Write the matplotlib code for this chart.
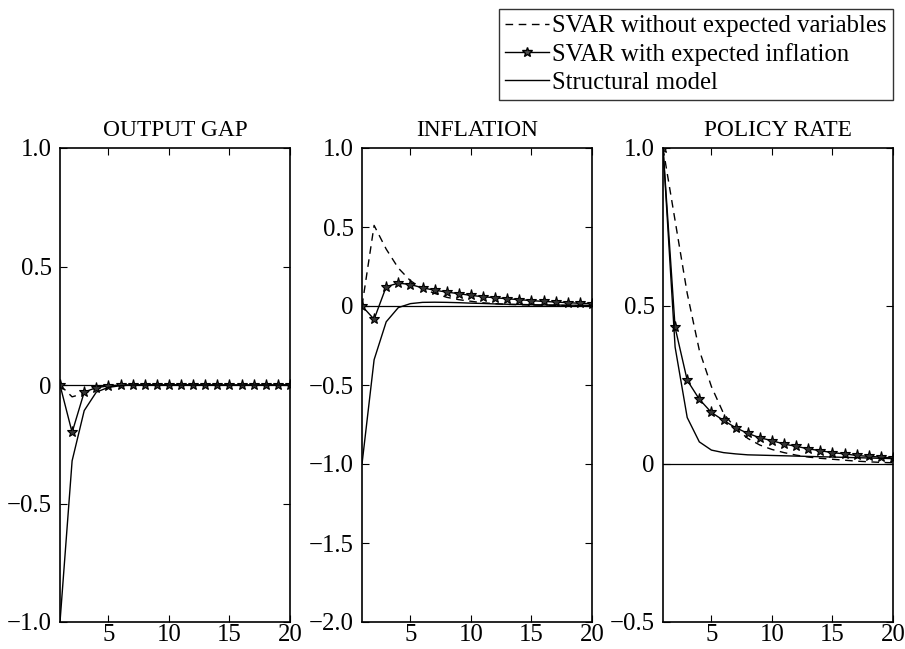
import matplotlib
matplotlib.use("Agg")
import matplotlib.pyplot as plt
from matplotlib.lines import Line2D

plt.rcParams['font.family'] = ['Liberation Serif', 'DejaVu Serif']

periods = list(range(1, 21))

titles = ["OUTPUT GAP", "INFLATION", "POLICY RATE"]
legend_labels = ["SVAR without expected variables",
                 "SVAR with expected inflation",
                 "Structural model"]

# OUTPUT GAP
gap_svar = [0, -0.05, -0.035, -0.015, -0.006, -0.002, 0, 0, 0, 0,
            0, 0, 0, 0, 0, 0, 0, 0, 0, 0]
gap_svar_exp = [0, -0.20, -0.03, -0.011, -0.004, 0, 0, 0, 0, 0,
                0, 0, 0, 0, 0, 0, 0, 0, 0, 0]
gap_struct = [-1.0, -0.32, -0.108, -0.03, -0.01, -0.003, 0, 0, 0, 0,
              0, 0, 0, 0, 0, 0, 0, 0, 0, 0]

# INFLATION
inf_svar = [0, 0.51, 0.36, 0.24, 0.16, 0.11, 0.08, 0.055, 0.04, 0.03,
            0.02, 0.015, 0.01, 0.008, 0.006, 0.005, 0.004, 0.003, 0.002, 0.002]
inf_svar_exp = [0, -0.084, 0.122, 0.145, 0.136, 0.115, 0.10, 0.088, 0.078, 0.067,
                0.059, 0.052, 0.046, 0.040, 0.034, 0.029, 0.025, 0.021, 0.017, 0.015]
inf_struct = [-1.0, -0.34, -0.10, -0.01, 0.015, 0.023, 0.024, 0.023, 0.021, 0.018,
              0.016, 0.013, 0.011, 0.010, 0.008, 0.007, 0.006, 0.005, 0.005, 0.004]

# POLICY RATE
rate_svar = [1.0, 0.77, 0.54, 0.36, 0.245, 0.16, 0.113, 0.081, 0.06, 0.046,
             0.036, 0.028, 0.022, 0.018, 0.015, 0.012, 0.009, 0.007, 0.005, 0.004]
rate_svar_exp = [1.0, 0.432, 0.265, 0.205, 0.163, 0.138, 0.115, 0.097, 0.083, 0.074,
                 0.063, 0.056, 0.048, 0.042, 0.036, 0.032, 0.027, 0.024, 0.022, 0.019]
rate_struct = [1.0, 0.37, 0.147, 0.07, 0.044, 0.036, 0.032, 0.029, 0.028, 0.027,
               0.026, 0.025, 0.024, 0.023, 0.022, 0.021, 0.020, 0.019, 0.018, 0.017]

series = [
    (gap_svar, gap_svar_exp, gap_struct),
    (inf_svar, inf_svar_exp, inf_struct),
    (rate_svar, rate_svar_exp, rate_struct),
]

ylims = [(-1.0, 1.0), (-2.0, 1.0), (-0.5, 1.0)]
yticks = [[-1.0, -0.5, 0, 0.5, 1.0],
          [-2.0, -1.5, -1.0, -0.5, 0, 0.5, 1.0],
          [-0.5, 0, 0.5, 1.0]]
yticklabels = [["\u22121.0", "\u22120.5", "0", "0.5", "1.0"],
               ["\u22122.0", "\u22121.5", "\u22121.0", "\u22120.5", "0", "0.5", "1.0"],
               ["\u22120.5", "0", "0.5", "1.0"]]
xticks = [5, 10, 15, 20]
xticklabels = ["5", "10", "15", "20"]

W, H = 905, 649
fig = plt.figure(figsize=(W / 100, H / 100), dpi=100)

lefts = [60, 362, 663]
ax_w = 230
top_px, bot_px = 148, 622
fs_tick = 17.8
fs_title = 16.8
fs_leg = 17.8
dash = (0, (5.5, 4))

for i in range(3):
    ax = fig.add_axes([lefts[i] / W, (H - bot_px) / H, ax_w / W, (bot_px - top_px) / H])
    s_no, s_exp, s_str = series[i]
    ax.axhline(0, color='k', lw=0.9)
    ax.plot(periods, s_no, color='k', ls=dash, lw=1.0)
    ax.plot(periods, s_exp, color='k', lw=1.0, marker='*', ms=8,
            mfc='0.2', mec='k', mew=0.8)
    ax.plot(periods, s_str, color='k', lw=1.0)
    ax.set_xlim(1, 20)
    ax.set_ylim(*ylims[i])
    ax.set_xticks(xticks)
    ax.set_xticklabels(xticklabels)
    ax.set_yticks(yticks[i])
    ax.set_yticklabels(yticklabels[i])
    ax.tick_params(direction='in', top=True, right=True, labelsize=fs_tick,
                   length=5, width=0.8)
    ax.tick_params(axis='y', pad=6)
    ax.tick_params(axis='x', pad=1.5)
    for sp in ax.spines.values():
        sp.set_linewidth(1.2)
    ax.set_title(titles[i], fontsize=fs_title, pad=9)

handles = [
    Line2D([], [], color='k', ls=dash, lw=1.0),
    Line2D([], [], color='k', lw=1.0, marker='*', ms=7, mfc='0.3', mec='k'),
    Line2D([], [], color='k', lw=1.0),
]
leg = fig.legend(handles, legend_labels, loc='upper right',
                 bbox_to_anchor=(893 / W, 1 - 9 / H), fontsize=fs_leg,
                 frameon=True, fancybox=False, edgecolor='k',
                 handlelength=1.75, handletextpad=0.15, borderpad=0.25,
                 labelspacing=0.22, borderaxespad=0)
leg.get_frame().set_linewidth(1.0)

fig.savefig("out.png", dpi=100)
